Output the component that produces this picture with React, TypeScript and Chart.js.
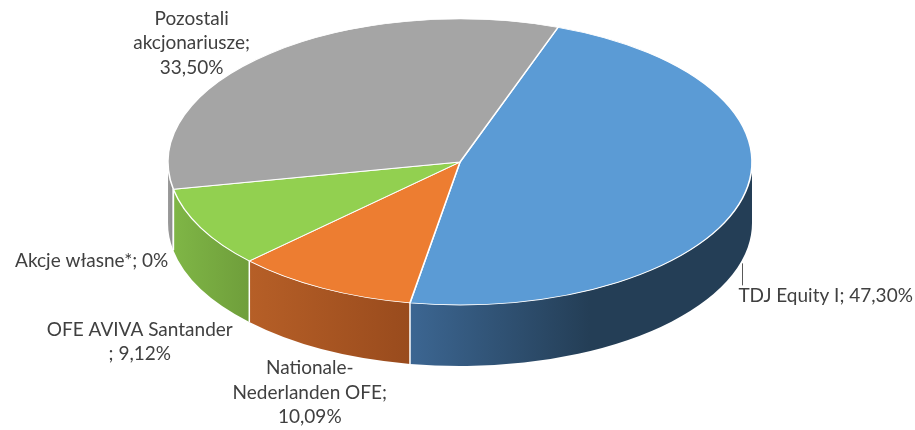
import React, { useEffect, useRef } from 'react';
import { Chart, registerables } from 'chart.js';

Chart.register(...registerables);

// ---- data ----
const categories = [
  'TDJ Equity I',
  'Nationale-Nederlanden OFE',
  'OFE AVIVA Santander',
  'Akcje własne*',
  'Pozostali akcjonariusze',
];
const shares = [47.3, 10.09, 9.12, 0, 33.5];
const shareLabels = ['47,30%', '10,09%', '9,12%', '0%', '33,50%'];

// label text as wrapped in the original
const labelLines: string[][] = [
  [`${categories[0]}; ${shareLabels[0]}`],
  ['Nationale-', 'Nederlanden OFE;', shareLabels[1]],
  [categories[2], `; ${shareLabels[2]}`],
  [`${categories[3]}; ${shareLabels[3]}`],
  ['Pozostali', 'akcjonariusze;', shareLabels[4]],
];

// ---- styles / layout ----
const topColors = ['#5b9bd5', '#ed7d31', '#92d050', '#a5a5a5', '#a5a5a5'];
const sideLight = ['#3c6692', '#b65f27', '#7fb646', '#9a9a9a', '#9c9c9c'];
const sideDark = ['#243e56', '#994b1d', '#6f9e3b', '#888888', '#898989'];
const labelDx = [-4, -13, -61, -5, -78];
const labelDy = [37, 19, 41, 11, -35];
const labelAlign: CanvasTextAlign[] = ['left', 'center', 'center', 'right', 'center'];
const labelLeader = [true, false, false, false, false];

const PIE_CX = 460;
const PIE_CY = 162;
const RX = 292;
const RY = 143;
const DEPTH = 61;
const LINE_H = 24.5;
const FONT = '19px Lato, "Open Sans", sans-serif';
const TEXT_COLOR = '#404040';

const TWO_PI = Math.PI * 2;

const pie3d = {
  id: 'pie3d',
  beforeDatasetsDraw(chart: any) {
    const ctx: CanvasRenderingContext2D = chart.ctx;
    const arcs = chart.getDatasetMeta(0).data;
    if (!arcs.length) return;
    const p0 = arcs[0].getProps(['x', 'y', 'outerRadius'], true);

    // side walls (front half only)
    arcs.forEach((arc: any, i: number) => {
      const { startAngle, endAngle } = arc.getProps(['startAngle', 'endAngle'], true);
      if (endAngle - startAngle <= 0) return;
      for (let k = -1; k <= 2; k++) {
        const lo = Math.max(startAngle, TWO_PI * k);
        const hi = Math.min(endAngle, TWO_PI * k + Math.PI);
        if (hi <= lo) continue;
        const xa = PIE_CX + RX * Math.cos(lo);
        const xb = PIE_CX + RX * Math.cos(hi);
        const left = Math.min(xa, xb);
        const right = Math.max(xa, xb);
        const g = ctx.createLinearGradient(left, 0, right, 0);
        g.addColorStop(0, sideLight[i]);
        g.addColorStop(Math.min(1, 180 / Math.max(1, right - left)), sideDark[i]);
        g.addColorStop(1, sideDark[i]);
        ctx.save();
        ctx.beginPath();
        ctx.ellipse(PIE_CX, PIE_CY, RX, RY, 0, lo, hi, false);
        ctx.ellipse(PIE_CX, PIE_CY + DEPTH, RX, RY, 0, hi, lo, true);
        ctx.closePath();
        ctx.fillStyle = g;
        ctx.fill();
        ctx.restore();
      }
    });
    // white seams on the side at slice boundaries
    arcs.forEach((arc: any) => {
      const { startAngle } = arc.getProps(['startAngle'], true);
      const a = ((startAngle % TWO_PI) + TWO_PI) % TWO_PI;
      if (a > 0.02 && a < Math.PI - 0.02) {
        const sx = PIE_CX + RX * Math.cos(a);
        const sy = PIE_CY + RY * Math.sin(a);
        ctx.save();
        ctx.strokeStyle = '#ffffff';
        ctx.lineWidth = 1.5;
        ctx.beginPath();
        ctx.moveTo(sx, sy);
        ctx.lineTo(sx, sy + DEPTH);
        ctx.stroke();
        ctx.restore();
      }
    });

    // flatten the top face into an ellipse
    ctx.save();
    ctx.translate(PIE_CX, PIE_CY);
    ctx.scale(RX / p0.outerRadius, RY / p0.outerRadius);
    ctx.translate(-p0.x, -p0.y);
  },
  afterDatasetsDraw(chart: any) {
    chart.ctx.restore();
  },
  afterDraw(chart: any) {
    const ctx: CanvasRenderingContext2D = chart.ctx;
    const arcs = chart.getDatasetMeta(0).data;
    ctx.save();
    ctx.font = FONT;
    ctx.fillStyle = TEXT_COLOR;
    ctx.textBaseline = 'middle';
    arcs.forEach((arc: any, i: number) => {
      const { startAngle, endAngle } = arc.getProps(['startAngle', 'endAngle'], true);
      const mid = (startAngle + endAngle) / 2;
      const ax = PIE_CX + RX * Math.cos(mid);
      let ay = PIE_CY + RY * Math.sin(mid);
      if (Math.sin(mid) > 0) ay += DEPTH;
      if (labelLeader[i]) {
        ctx.save();
        ctx.strokeStyle = '#595959';
        ctx.lineWidth = 1;
        ctx.beginPath();
        ctx.moveTo(Math.round(ax) + 0.5, ay + 4);
        ctx.lineTo(Math.round(ax) + 0.5, ay + 26);
        ctx.stroke();
        ctx.restore();
      }
      ctx.textAlign = labelAlign[i];
      labelLines[i].forEach((line, j) => {
        ctx.fillText(line, ax + labelDx[i], ay + labelDy[i] + j * LINE_H);
      });
    });
    ctx.restore();
  },
};

export default function App() {
  const ref = useRef<HTMLCanvasElement | null>(null);
  useEffect(() => {
    document.body.style.margin = '0';
    if (!ref.current) return;
    const chart = new Chart(ref.current, {
      type: 'pie',
      data: {
        labels: categories,
        datasets: [
          {
            data: shares,
            backgroundColor: topColors,
            borderColor: '#ffffff',
            borderWidth: 0.9,
            clip: false as any,
          },
        ],
      },
      options: {
        animation: false,
        responsive: false,
        devicePixelRatio: 1,
        rotation: 19.6,
        events: [],
        layout: { padding: { left: 5, right: 0, top: 0, bottom: 106 } },
        plugins: {
          legend: { display: false },
          tooltip: { enabled: false },
        },
      },
      plugins: [pie3d],
    });
    return () => chart.destroy();
  }, []);
  return (
    <div style={{ width: 915, height: 430, background: '#ffffff' }}>
      <canvas ref={ref} width={915} height={430} />
    </div>
  );
}
